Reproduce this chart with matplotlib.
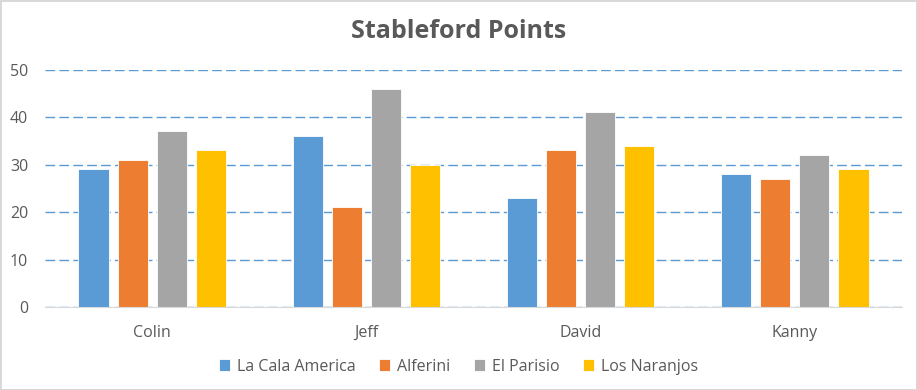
import matplotlib.pyplot as plt
import numpy as np

players = ['Colin', 'Jeff', 'David', 'Kanny']
courses = ['La Cala America', 'Alferini', 'El Parisio', 'Los Naranjos']
la_cala = [29, 36, 23, 28]
alferini = [31, 21, 33, 27]
el_parisio = [37, 46, 41, 32]
los_naranjos = [33, 30, 34, 29]
colors = ['#5B9BD5', '#ED7D31', '#A5A5A5', '#FFC000']

plt.rcParams['font.family'] = ['Open Sans', 'DejaVu Sans']

fig = plt.figure(figsize=(9.17, 3.9), dpi=100)
fig.patch.set_edgecolor('#D9D9D9')
fig.patch.set_linewidth(2)
ax = fig.add_axes([0.049, 0.2128, 0.9347, 0.6085])

x = np.arange(len(players))
step = 39 / 214
width = 30 / 214
series = [la_cala, alferini, el_parisio, los_naranjos]
for i, vals in enumerate(series):
    ax.bar(x + (i - 1.5) * step, vals, width, color=colors[i], label=courses[i],
           edgecolor='white', linewidth=0.6, zorder=3)

ax.set_xlim(-0.5, 3.5)
ax.set_ylim(0, 50)
ax.set_yticks(range(0, 51, 10))
ax.set_xticks(x)
ax.set_xticklabels(players)
ax.yaxis.grid(True, color='#5B9BD5', linestyle=(0, (7, 3)), linewidth=1, zorder=0)
for s in ['top', 'right', 'left']:
    ax.spines[s].set_visible(False)
ax.spines['bottom'].set_color('#D9D9D9')
ax.spines['bottom'].set_zorder(4)
ax.tick_params(axis='both', length=0, labelsize=11.5, labelcolor='#595959')
ax.tick_params(axis='y', pad=12)
ax.tick_params(axis='x', pad=13)

fig.suptitle('Stableford Points', x=0.5, y=0.95, fontsize=18, fontweight='bold', color='#595959')

fig.legend(loc='center', bbox_to_anchor=(0.5, 0.06), ncol=4, frameon=False,
           fontsize=11.5, labelcolor='#595959', handlelength=0.7, handleheight=0.7,
           handletextpad=0.4, columnspacing=1.5)

plt.savefig('out.png', dpi=100)
